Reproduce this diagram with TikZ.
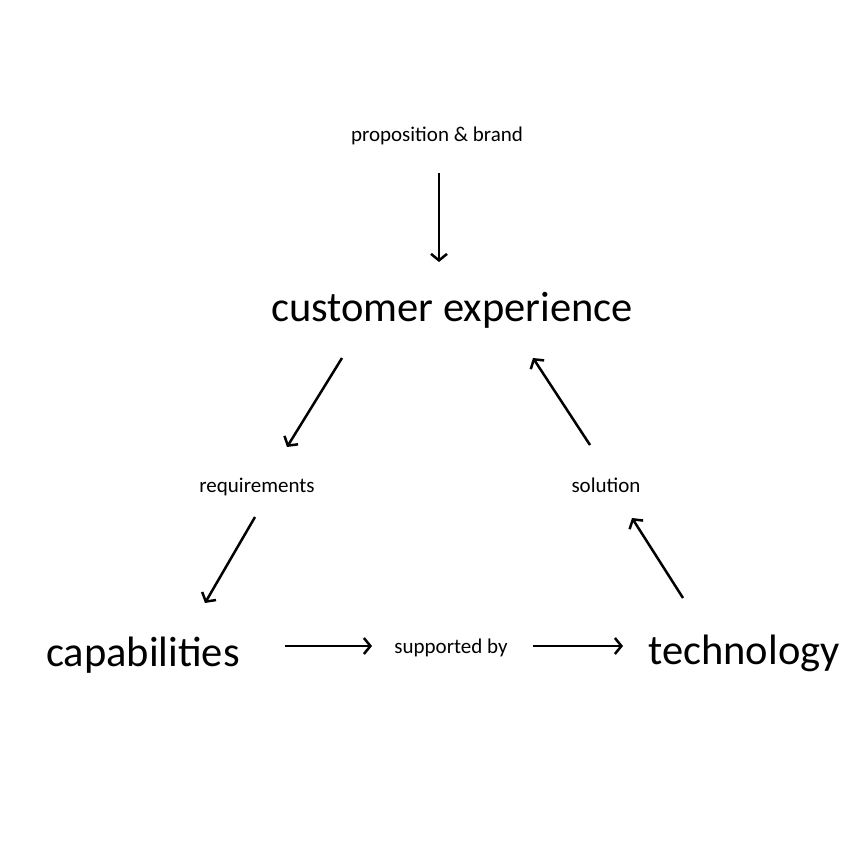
\documentclass[tikz,border=0pt]{standalone}
\usepackage{fontspec}
\setmainfont{Carlito}
\usetikzlibrary{arrows.meta}
\tikzstyle{big label}=[font=\fontsize{42.5}{48}\selectfont, inner sep=0pt, anchor=base]
\tikzstyle{small label}=[font=\fontsize{21}{25}\selectfont, inner sep=0pt, anchor=base]
\tikzstyle{flow} = [draw, line width=2.5pt, -{Straight Barb[length=6.5pt,width=16pt]}]

\begin{document}
\begin{tikzpicture}[x=1pt, y=-1pt]
	\useasboundingbox (0,0) rectangle (856,856);
	% First the three corners and the labels between them
	\foreach \pos/\name/\txt in {{(452,321)/cx/customer experience}, {(143,666)/cap/capabilities},
								{(744,664)/tech/technology}}
	\node[big label] (\name) at \pos {\txt};

	\foreach \pos/\name/\txt in {{(437,141)/brand/proposition \& brand}, {(257,492)/req/requirements},
								{(606,492)/sol/solution}, {(451,653)/sup/supported by}}
	\node[small label] (\name) at \pos {\txt};

	% Then the arrows, with gaps at both ends
	\path[flow] ([xshift=2pt,yshift=-32pt]brand.base) -- ([xshift=-13pt,yshift=59pt]cx.base);
	\path[flow] ([xshift=-110pt,yshift=-37pt]cx.base) -- ([xshift=30pt,yshift=45pt]req.base);
	\path[flow] ([xshift=-2pt,yshift=-25pt]req.base) -- ([xshift=62pt,yshift=63pt]cap.base);
	\path[flow] ([xshift=142pt,yshift=20pt]cap.base) -- ([xshift=-79pt,yshift=7pt]sup.base);
	\path[flow] ([xshift=82pt,yshift=7pt]sup.base) -- ([xshift=-121pt,yshift=18pt]tech.base);
	\path[flow] ([xshift=-61pt,yshift=66pt]tech.base) -- ([xshift=26pt,yshift=-26pt]sol.base);
	\path[flow] ([xshift=-16pt,yshift=47pt]sol.base) -- ([xshift=81pt,yshift=-37pt]cx.base);
\end{tikzpicture}
\end{document}
